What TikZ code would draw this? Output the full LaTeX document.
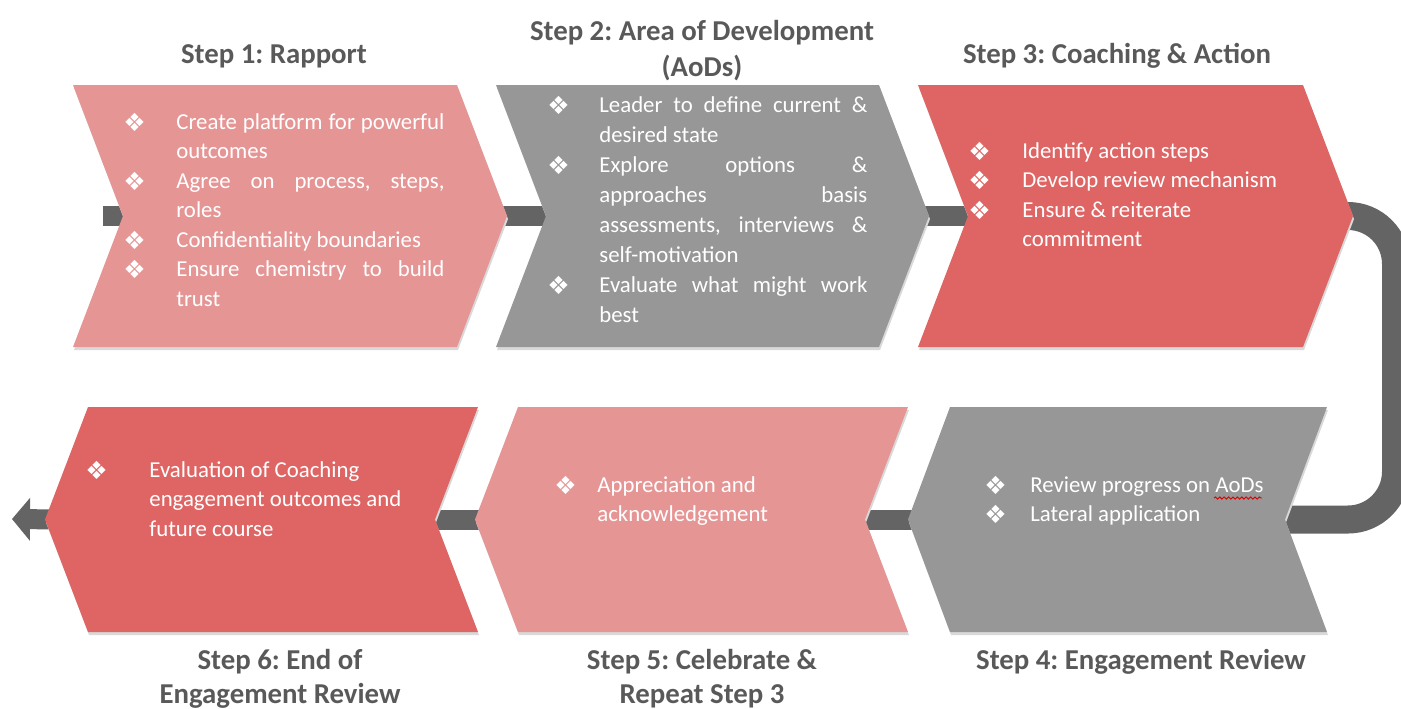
\documentclass[tikz,border=0pt]{standalone}
\usepackage{fontspec}
\setmainfont{Carlito}
\newfontfamily\symfont{DejaVu Sans}
\usetikzlibrary{arrows.meta,decorations.pathmorphing}
\pgfdeclarelayer{background}
\pgfsetlayers{background,main}
\frenchspacing

\definecolor{pinkstep}{HTML}{E69595}
\definecolor{graystep}{HTML}{979797}
\definecolor{redstep}{HTML}{DE6564}
\definecolor{linkgray}{HTML}{646464}
\definecolor{titlegray}{HTML}{595959}
\definecolor{shadowgray}{HTML}{D9D9D9}

% bullet column width and justified text width
\newlength\bw
\newlength\tw
\setlength\tw{134pt}
\newcommand\bul{\makebox[\bw][l]{\raisebox{-1.2pt}{\symfont\fontsize{12.5}{12.5}\selectfont ❖}}}
\newcommand\ind{\hspace*{\bw}}
\newcommand\jus[1]{\makebox[\tw][s]{#1}}

% right-pointing chevron: name, left x, right x, top y, bottom y, depth, colour
\newcommand\chevR[7]{%
  \fill[shadowgray, shift={(1,3)}] (#2,#4) -- (#3,#4) -- ({#3+#6},{(#4+#5)/2}) -- (#3,#5) -- (#2,#5) -- ({#2+#6},{(#4+#5)/2}) -- cycle;
  \fill[#7] (#2,#4) -- (#3,#4) -- ({#3+#6},{(#4+#5)/2}) -- (#3,#5) -- (#2,#5) -- ({#2+#6},{(#4+#5)/2}) -- cycle;
  \coordinate (#1-tip) at ({#3+#6},{(#4+#5)/2});
  \coordinate (#1-notch) at ({#2+#6},{(#4+#5)/2});
}
% left-pointing chevron: same arguments
\newcommand\chevL[7]{%
  \fill[shadowgray, shift={(1,3)}] (#2,#4) -- (#3,#4) -- ({#3-#6},{(#4+#5)/2}) -- (#3,#5) -- (#2,#5) -- ({#2-#6},{(#4+#5)/2}) -- cycle;
  \fill[#7] (#2,#4) -- (#3,#4) -- ({#3-#6},{(#4+#5)/2}) -- (#3,#5) -- (#2,#5) -- ({#2-#6},{(#4+#5)/2}) -- cycle;
  \coordinate (#1-tip) at ({#2-#6},{(#4+#5)/2});
  \coordinate (#1-notch) at ({#3-#6},{(#4+#5)/2});
}

\begin{document}
\begin{tikzpicture}[x=0.5pt, y=-0.5pt,
  body/.style={inner sep=0pt, text=white, anchor=base west,
    font=\fontsize{11.4}{14.75}\selectfont},
  title/.style={inner sep=0pt, text=titlegray, anchor=base,
    font=\fontsize{14.4}{18}\selectfont\bfseries},
  lowtitle/.style={title, font=\fontsize{14.4}{17}\selectfont\bfseries},
  bar/.style={draw=linkgray, line width=10pt},
  loopbar/.style={draw=linkgray, line width=14pt, rounded corners=24pt},
  squiggle/.style={draw=red!85!black, line width=0.45pt,
    decorate, decoration={snake, amplitude=0.55pt, segment length=2.2pt}}]
\useasboundingbox (0,0) rectangle (1401,708);
\clip (0,0) rectangle (1401,708);

% chevrons
\chevR{c1}{73}{457}{85}{347}{50}{pinkstep}
\chevR{c2}{496}{879}{85}{347}{50}{graystep}
\chevR{c3}{918}{1303}{85}{347}{50}{redstep}
\chevL{c4}{950}{1327}{407}{632}{42}{graystep}
\chevL{c5}{518}{908}{407}{632}{43}{pinkstep}
\chevL{c6}{88}{478}{407}{632}{43}{redstep}

\coordinate (start) at (103,216);
\coordinate (loopx) at (1396,0);
\coordinate (finish) at (12,519);

% connectors behind the chevrons
\begin{pgfonlayer}{background}
  \draw[bar] (start) -- ([xshift=10pt]c1-notch);
  \draw[bar] ([xshift=-10pt]c1-tip) -- ([xshift=10pt]c2-notch);
  \draw[bar] ([xshift=-10pt]c2-tip) -- ([xshift=10pt]c3-notch);
  \draw[loopbar] ([xshift=-15pt]c3-tip) -- (c3-tip -| loopx) -- (c4-notch -| loopx) -- ([xshift=-15pt]c4-notch);
  \draw[bar] ([xshift=10pt]c4-tip) -- ([xshift=-10pt]c5-notch);
  \draw[bar] ([xshift=10pt]c5-tip) -- ([xshift=-10pt]c6-notch);
  \draw[bar, -{Triangle[length=9pt, width=21pt]}] ([xshift=10pt]c6-tip) -- (finish);
\end{pgfonlayer}

% titles
\node[title] (h1) at (274,63) {Step 1: Rapport};
\node[title] (h2) at (702,40) {\begin{tabular}[t]{@{}c@{}}Step 2: Area of Development\\(AoDs)\end{tabular}};
\node[title] (h3) at (1117,63) {Step 3: Coaching \& Action};
\node[lowtitle] (h4) at (1141,669) {Step 4: Engagement Review};
\node[lowtitle] (h5) at (702,669) {\begin{tabular}[t]{@{}c@{}}Step 5: Celebrate \&\\Repeat Step 3\end{tabular}};
\node[lowtitle] (h6) at (280,669) {\begin{tabular}[t]{@{}c@{}}Step 6: End of\\Engagement Review\end{tabular}};

% step contents
\node[body] (b1) at (123,129) {\setlength\bw{26.5pt}\begin{tabular}[t]{@{}l@{}}
\bul\jus{Create platform for powerful}\\
\ind outcomes\\
\bul\jus{Agree on process, steps,}\\
\ind roles\\
\bul Confidentiality boundaries\\
\bul\jus{Ensure chemistry to build}\\
\ind trust
\end{tabular}};

\node[body, font=\fontsize{11.4}{15}\selectfont] (b2) at (547,112) {\setlength\bw{26pt}\begin{tabular}[t]{@{}l@{}}
\bul\jus{Leader to define current \&}\\
\ind desired state\\
\bul\jus{Explore options \&}\\
\ind\jus{approaches basis}\\
\ind\jus{assessments, interviews \&}\\
\ind self-motivation\\
\bul\jus{Evaluate what might work}\\
\ind best
\end{tabular}};

\node[body] (b3) at (968,158) {\setlength\bw{27pt}\begin{tabular}[t]{@{}l@{}}
\bul Identify action steps\\
\bul Develop review mechanism\\
\bul Ensure \& reiterate\\
\ind commitment
\end{tabular}};

\node[body] (b4) at (984,492) {\setlength\bw{23pt}\begin{tabular}[t]{@{}l@{}}
\bul Review progress on AoDs\\
\bul Lateral application
\end{tabular}};

\node[body] (b5) at (554,492) {\setlength\bw{21.5pt}\begin{tabular}[t]{@{}l@{}}
\bul Appreciation and\\
\ind acknowledgement
\end{tabular}};

\node[body] (b6) at (85,477) {\setlength\bw{32pt}\begin{tabular}[t]{@{}l@{}}
\bul Evaluation of Coaching\\
\ind engagement outcomes and\\
\ind future course
\end{tabular}};

% spelling mark under "AoDs"
\coordinate (sqa) at (1214,498);
\coordinate (sqb) at (1262,498);
\draw[squiggle] (sqa) -- (sqb);
\end{tikzpicture}
\end{document}
